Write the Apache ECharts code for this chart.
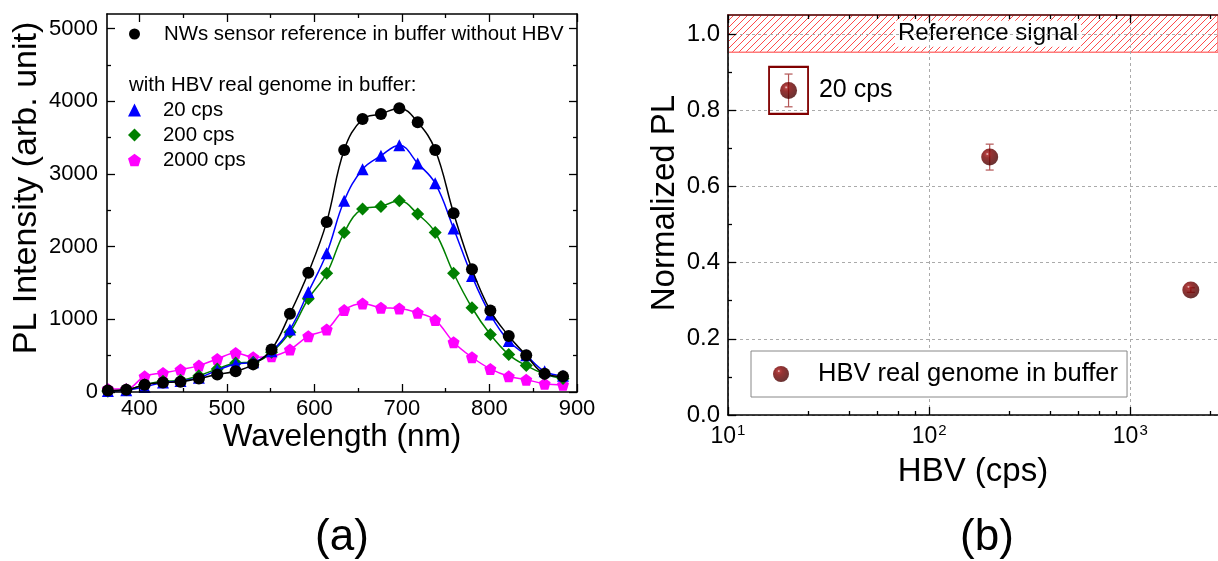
<!DOCTYPE html>
<html>
<head>
<meta charset="utf-8">
<script src="https://cdn.jsdelivr.net/npm/echarts@6.0.0/dist/echarts.min.js"></script>
<style>
html,body{margin:0;padding:0;background:#fff;}
#chart{width:1218px;height:561px;}
</style>
</head>
<body>
<div id="chart"></div>
<script>
// ---------------- DATA ----------------
// Panel (a): PL spectra
const wavelength = [364, 385, 406, 427, 447, 468, 489, 510, 530, 551, 572, 593, 614, 634, 655, 676, 697, 718, 738, 759, 780, 801, 822, 842, 863, 884];
const refNoHBV  = [20, 30, 100, 130, 140, 185, 240, 285, 380, 585, 1075, 1640, 2340, 3330, 3755, 3825, 3905, 3710, 3330, 2460, 1690, 1120, 770, 505, 250, 215];
const cps20     = [15, 25, 70, 130, 150, 195, 300, 385, 410, 560, 860, 1375, 1910, 2630, 3065, 3250, 3395, 3145, 2870, 2250, 1595, 1065, 700, 505, 285, 225];
const cps200    = [10, 30, 100, 147, 160, 225, 317, 400, 410, 547, 823, 1283, 1633, 2194, 2516, 2553, 2631, 2447, 2194, 1633, 1159, 791, 515, 363, 248, 184];
const cps2000   = [41, 41, 216, 262, 308, 363, 455, 538, 478, 492, 584, 768, 860, 1127, 1219, 1159, 1150, 1090, 989, 685, 478, 317, 216, 170, 115, 101];
const seriesNamesA = ['NWs sensor reference in buffer without HBV', '20 cps', '200 cps', '2000 cps'];
const xTicksA = [400, 500, 600, 700, 800, 900];
const xMinorA = [450, 550, 650, 750, 850];
const yTicksA = [0, 1000, 2000, 3000, 4000, 5000];
const yMinorA = [500, 1500, 2500, 3500, 4500];

// Panel (b): normalized PL vs HBV concentration
const hbvCps  = [20, 200, 2000];
const normPL  = [0.852, 0.677, 0.328];
const normErr = [0.043, 0.034, 0.006];
const refBand = [0.952, 1.05];
const xTicksB = [10, 100, 1000];
const xMinorB = [25, 40, 55, 70, 85, 250, 400, 550, 700, 850, 2500];
const yTicksB = [0, 0.2, 0.4, 0.6, 0.8, 1.0];
const yMinorB = [0.1, 0.3, 0.5, 0.7, 0.9];

// ---------------- CHART ----------------
const FONT = 'Liberation Sans, Arial, sans-serif';
const chart = echarts.init(document.getElementById('chart'), null, {renderer: 'canvas'});

// hatch pattern for the reference band
const pat = document.createElement('canvas');
pat.width = 7; pat.height = 7;
(function(){
  const c = pat.getContext('2d');
  c.strokeStyle = '#ff4a4a'; c.lineWidth = 1;
  c.beginPath();
  c.moveTo(0, 7); c.lineTo(7, 0);
  c.moveTo(-1, 1); c.lineTo(1, -1);
  c.moveTo(6, 8); c.lineTo(8, 6);
  c.stroke();
})();

function axis(opt) {
  const a = {
    type: opt.type || 'value',
    gridIndex: opt.grid,
    position: opt.position,
    min: opt.min, max: opt.max,
    axisLine: {show: opt.line !== false, onZero: false, lineStyle: {color: opt.lineColor || '#000', width: 1.6}},
    axisTick: {show: true, inside: true, length: opt.tickLen, customValues: opt.ticks, lineStyle: {color: '#000', width: 1.3}},
    axisLabel: {show: false},
    splitLine: {show: false},
    z: opt.z || 3
  };
  if (opt.type === 'log') a.logBase = 10;
  if (opt.labels) {
    a.axisLabel = Object.assign({show: true, customValues: opt.ticks, color: '#000', fontFamily: FONT}, opt.labels);
  }
  if (opt.split) {
    a.splitLine = {show: true, lineStyle: {color: '#aaaaaa', type: [3, 3], width: 1}};
  }
  return a;
}

const xAxes = [
  // panel a
  axis({grid: 0, position: 'bottom', min: 363, max: 900, ticks: xTicksA, tickLen: 8,
        labels: {fontSize: 22, margin: 6, formatter: function (v) { return String(v); }}}),
  axis({grid: 0, position: 'bottom', min: 363, max: 900, ticks: xMinorA, tickLen: 4, line: false}),
  axis({grid: 0, position: 'top', min: 363, max: 900, ticks: xTicksA, tickLen: 8}),
  axis({grid: 0, position: 'top', min: 363, max: 900, ticks: xMinorA, tickLen: 4, line: false}),
  // panel b
  axis({grid: 1, type: 'log', position: 'bottom', min: 10, max: 2730, ticks: xTicksB, tickLen: 8, split: true,
        labels: {fontSize: 23, margin: 8,
          formatter: function (v) { return '{b|10}{s|' + Math.round(Math.log10(v)) + '}'; },
          rich: {b: {fontSize: 23, fontFamily: FONT, color: '#000'}, s: {fontSize: 15, fontFamily: FONT, color: '#000', padding: [0, 0, 12, 1]}}}}),
  axis({grid: 1, type: 'log', position: 'bottom', min: 10, max: 2730, ticks: xMinorB, tickLen: 4, line: false}),
  axis({grid: 1, type: 'log', position: 'top', min: 10, max: 2730, ticks: xTicksB, tickLen: 8, lineColor: '#4a1010'}),
  axis({grid: 1, type: 'log', position: 'top', min: 10, max: 2730, ticks: xMinorB, tickLen: 4, line: false})
];
const yAxes = [
  axis({grid: 0, position: 'left', min: 0, max: 5200, ticks: yTicksA, tickLen: 8,
        labels: {fontSize: 22, margin: 9, formatter: function (v) { return String(v); }}}),
  axis({grid: 0, position: 'left', min: 0, max: 5200, ticks: yMinorA, tickLen: 4, line: false}),
  axis({grid: 0, position: 'right', min: 0, max: 5200, ticks: yTicksA, tickLen: 8}),
  axis({grid: 0, position: 'right', min: 0, max: 5200, ticks: yMinorA, tickLen: 4, line: false}),
  axis({grid: 1, position: 'left', min: 0, max: 1.05, ticks: yTicksB, tickLen: 8, split: true,
        labels: {fontSize: 24, margin: 8, formatter: function (v) { return v.toFixed(1); }}}),
  axis({grid: 1, position: 'left', min: 0, max: 1.05, ticks: yMinorB, tickLen: 4, line: false})
];

const pentagon = 'path://M0,-1 L0.951,-0.309 L0.588,0.809 L-0.588,0.809 L-0.951,-0.309 Z';
const colorsA = ['#000000', '#0000ff', '#008000', '#ff00ff'];
const symbolsA = ['circle', 'triangle', 'diamond', pentagon];
const sizesA = [12, 12, 13, 12];
const valuesA = [refNoHBV, cps20, cps200, cps2000];

const seriesA = valuesA.map(function (vals, k) {
  return {
    type: 'line', name: seriesNamesA[k], xAxisIndex: 0, yAxisIndex: 0,
    data: wavelength.map(function (w, i) { return [w, vals[i]]; }),
    smooth: 0.4, symbol: symbolsA[k], symbolSize: sizesA[k], showAllSymbol: true,
    itemStyle: {color: colorsA[k]}, lineStyle: {color: colorsA[k], width: 1.5},
    z: 2 + (3 - k) * 0.1, animation: false
  };
});

const sphere = {
  type: 'radial', x: 0.36, y: 0.32, r: 0.72,
  colorStops: [
    {offset: 0, color: '#f4dada'},
    {offset: 0.12, color: '#a01010'},
    {offset: 0.32, color: '#7c0000'},
    {offset: 1, color: '#420000'}
  ]
};

const legendText = {fontSize: 20.4, fontFamily: FONT, color: '#000', lineHeight: 20, padding: [0, 0, 0, 17]};

const seriesB = [
  {
    type: 'custom', name: 'err', xAxisIndex: 4, yAxisIndex: 4, silent: true, z: 3,
    data: hbvCps.map(function (x, i) { return [x, normPL[i], normErr[i]]; }),
    encode: {x: 0, y: 1},
    renderItem: function (params, api) {
      const x = api.value(0), y = api.value(1), e = api.value(2);
      const t = api.coord([x, y + e]), b = api.coord([x, y - e]);
      const st = {stroke: '#b35555', lineWidth: 1.2};
      const hw = 4;
      return {type: 'group', children: [
        {type: 'line', shape: {x1: t[0], y1: t[1], x2: b[0], y2: b[1]}, style: st},
        {type: 'line', shape: {x1: t[0] - hw, y1: t[1], x2: t[0] + hw, y2: t[1]}, style: st},
        {type: 'line', shape: {x1: b[0] - hw, y1: b[1], x2: b[0] + hw, y2: b[1]}, style: st}
      ]};
    },
    animation: false
  },
  {
    type: 'scatter', name: 'HBV real genome in buffer', xAxisIndex: 4, yAxisIndex: 4, z: 4,
    data: hbvCps.map(function (x, i) { return [x, normPL[i]]; }),
    symbol: 'circle', symbolSize: 17,
    itemStyle: {color: sphere},
    animation: false,
    markArea: {
      silent: true,
      itemStyle: {color: {image: pat, repeat: 'repeat'}, borderColor: '#ff7a7a', borderWidth: 1.5, opacity: 1},
      label: {show: true, position: 'inside', offset: [15, 0], formatter: 'Reference signal', fontSize: 24, fontFamily: FONT, color: '#000',
              backgroundColor: '#fff', padding: [1, 3]},
      data: [[{yAxis: refBand[0]}, {yAxis: refBand[1]}]]
    },
    markPoint: {
      silent: true,
      symbol: 'rect', symbolSize: [39, 47],
      itemStyle: {color: 'rgba(0,0,0,0)', borderColor: '#800000', borderWidth: 2},
      label: {show: true, position: 'right', distance: 10, formatter: hbvCps[0] + ' cps', fontSize: 25, fontFamily: FONT, color: '#000'},
      data: [{coord: [hbvCps[0], normPL[0]]}]
    }
  }
];

const option = {
  backgroundColor: '#fff',
  animation: false,
  textStyle: {fontFamily: FONT},
  grid: [
    {left: 107, top: 14, width: 470, height: 378},
    {left: 728, top: 15, width: 490, height: 400}
  ],
  xAxis: xAxes,
  yAxis: yAxes,
  legend: [
    {
      data: [{name: seriesNamesA[0], icon: 'circle'}],
      left: 129, top: 24, orient: 'vertical', padding: 0, selectedMode: false,
      itemWidth: 11, itemHeight: 11,
      textStyle: Object.assign({}, legendText, {padding: [0, 0, 0, 19]})
    },
    {
      data: [{name: seriesNamesA[1], icon: 'triangle'}, {name: seriesNamesA[2], icon: 'diamond'}, {name: seriesNamesA[3], icon: pentagon}],
      left: 128, top: 100, orient: 'vertical', padding: 0, itemGap: 5, selectedMode: false,
      itemWidth: 13, itemHeight: 13,
      textStyle: legendText
    },
    {
      data: [{name: 'HBV real genome in buffer', icon: 'circle'}],
      left: 751, top: 351, orient: 'vertical', selectedMode: false,
      padding: [8, 9, 8, 22], borderColor: '#888', borderWidth: 1, backgroundColor: '#fff',
      itemWidth: 16, itemHeight: 16,
      textStyle: {fontSize: 25.5, fontFamily: FONT, color: '#000', lineHeight: 30, padding: [0, 0, 0, 24]}
    }
  ],
  graphic: [
    {type: 'text', x: 129, y: 85, style: {text: 'with HBV real genome in buffer:', font: '20.4px ' + FONT, fill: '#000', align: 'left', verticalAlign: 'middle'}},
    {type: 'text', x: 27, y: 188, rotation: Math.PI / 2, style: {text: 'PL Intensity (arb. unit)', font: '34px ' + FONT, fill: '#000', align: 'center', verticalAlign: 'middle'}},
    {type: 'text', x: 342, y: 437, style: {text: 'Wavelength (nm)', font: '31.5px ' + FONT, fill: '#000', align: 'center', verticalAlign: 'middle'}},
    {type: 'text', x: 665, y: 203, rotation: Math.PI / 2, style: {text: 'Normalized PL', font: '33px ' + FONT, fill: '#000', align: 'center', verticalAlign: 'middle'}},
    {type: 'text', x: 973, y: 472, style: {text: 'HBV (cps)', font: '33px ' + FONT, fill: '#000', align: 'center', verticalAlign: 'middle'}},
    {type: 'text', x: 342, y: 538, style: {text: '(a)', font: '44px ' + FONT, fill: '#000', align: 'center', verticalAlign: 'middle'}},
    {type: 'text', x: 987, y: 538, style: {text: '(b)', font: '44px ' + FONT, fill: '#000', align: 'center', verticalAlign: 'middle'}}
  ],
  series: seriesA.concat(seriesB)
};
chart.setOption(option);
</script>
</body>
</html>
